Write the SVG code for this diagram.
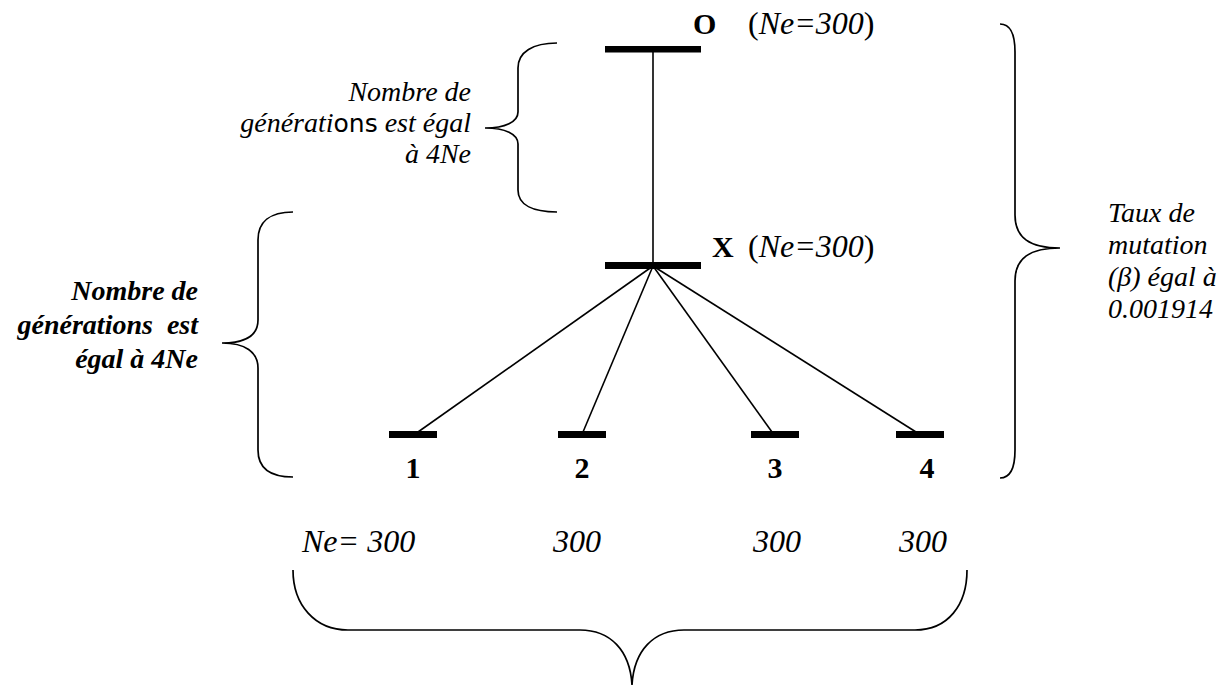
<svg xmlns="http://www.w3.org/2000/svg" width="1217" height="685" viewBox="0 0 1217 685">
<style>
.bar{fill:#000}
.edge{stroke:#000;stroke-width:1.6;fill:none}
.brace{stroke:#000;stroke-width:1.7;fill:none}
.lbl{font-family:"Liberation Serif",serif;font-weight:bold;font-size:30px;fill:#000}
.ne{font-family:"Liberation Serif",serif;font-style:italic;font-size:32px;fill:#000}
.it{font-family:"Liberation Serif",serif;font-style:italic;font-size:28px;fill:#000}
.bi{font-family:"Liberation Serif",serif;font-style:italic;font-weight:bold;font-size:28px;fill:#000}
</style>
<rect width="1217" height="685" fill="#fff"/>
<g id="connectors">
<line class="edge" x1="653" y1="52" x2="653" y2="263"/>
<line class="edge" x1="653" y1="266" x2="418" y2="432"/>
<line class="edge" x1="653" y1="266" x2="583" y2="432"/>
<line class="edge" x1="653" y1="266" x2="772" y2="432"/>
<line class="edge" x1="653" y1="266" x2="916" y2="432"/>
</g>
<g id="node-O">
<rect class="bar" x="605" y="46" width="96" height="6.5"/>
<text class="lbl" x="693" y="34">O</text>
<text class="ne" x="748" y="34"><tspan font-style="normal">(</tspan>Ne=300<tspan font-style="normal">)</tspan></text>
</g>
<g id="node-X">
<rect class="bar" x="605" y="262" width="96" height="7"/>
<text class="lbl" x="712" y="257">X</text>
<text class="ne" x="748" y="257"><tspan font-style="normal">(</tspan>Ne=300<tspan font-style="normal">)</tspan></text>
</g>
<g id="node-1">
<rect class="bar" x="389" y="431" width="48" height="7"/>
<text class="lbl" x="413" y="478" text-anchor="middle">1</text>
</g>
<g id="node-2">
<rect class="bar" x="558" y="431" width="48" height="7"/>
<text class="lbl" x="582" y="478" text-anchor="middle">2</text>
</g>
<g id="node-3">
<rect class="bar" x="751" y="431" width="48" height="7"/>
<text class="lbl" x="775" y="478" text-anchor="middle">3</text>
</g>
<g id="node-4">
<rect class="bar" x="896" y="431" width="48" height="7"/>
<text class="lbl" x="927" y="478" text-anchor="middle">4</text>
</g>
<g id="annot-top">
<path class="brace" d="M557,43 C533,43 518,52 518,68 L518,112 C518,122 505,128 485,128 C505,128 518,134 518,144 L518,190 C518,205 533,212 557,212"/>
<text class="it" x="471" y="101" text-anchor="end">Nombre de</text>
<text class="it" x="471" y="132" text-anchor="end">générati<tspan font-family="DejaVu Sans" font-style="normal" font-size="25">ons</tspan> est égal</text>
<text class="it" x="471" y="163" text-anchor="end">à 4Ne</text>
</g>
<g id="annot-left">
<path class="brace" d="M293,212 C270,212 258,222 258,240 L258,320 C258,336 245,343 222,343 C245,343 258,352 258,368 L258,450 C258,468 270,477 293,477"/>
<text class="bi" x="198" y="300" text-anchor="end">Nombre de</text>
<text class="bi" x="198" y="334" text-anchor="end">générations&#160; est</text>
<text class="bi" x="198" y="368" text-anchor="end">égal à 4Ne</text>
</g>
<g id="annot-right">
<path class="brace" d="M1000,24 C1010,24 1015,34 1015,52 L1015,215 C1015,238 1030,248 1060,248 C1030,248 1015,258 1015,281 L1015,450 C1015,468 1010,478 1000,478"/>
<text class="it" x="1108" y="222" font-size="25">Taux de</text>
<text class="it" x="1108" y="254" font-size="25">mutation</text>
<text class="it" x="1108" y="286" font-size="25">(β) égal à</text>
<text class="it" x="1108" y="318" font-size="25">0.001914</text>
</g>
<g id="annot-bottom">
<text class="ne" x="302" y="552">Ne= 300</text>
<text class="ne" x="553" y="552">300</text>
<text class="ne" x="753" y="552">300</text>
<text class="ne" x="899" y="552">300</text>
<path class="brace" d="M293,570 C293,605 315,630 348,630 L580,630 C610,630 630,650 632,685 C634,650 654,630 684,630 L915,630 C948,630 967,605 967,570"/>
</g>
</svg>
